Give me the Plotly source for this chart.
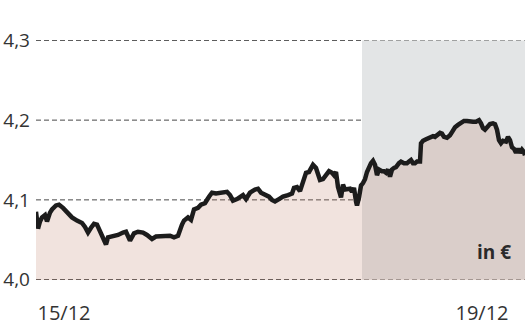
import plotly.graph_objects as go

# time index (intraday samples, 15/12 .. 19/12)
times = [0, 2, 4, 6, 9, 11, 14, 16, 20, 23, 27, 31, 36, 41, 46, 49, 52, 55, 58, 61,
         64, 67, 70, 72, 77, 82, 87, 90, 94, 98, 102, 107, 111, 116, 120, 125, 130, 134, 138, 142,
         146, 148, 152, 155, 158, 162, 165, 169, 173, 176, 180, 184, 188, 191, 194, 197, 201, 204, 207, 210,
         214, 219, 222, 225, 229, 233, 236, 239, 243, 247, 252, 256, 258, 261, 264, 267, 270, 273, 277, 280,
         282, 284, 287, 290, 293, 296, 298, 300, 302, 305, 307, 309, 311, 314, 316, 318, 320, 321, 323, 325,
         327, 329, 331, 333, 335, 337, 339, 341, 343, 346, 348, 350, 352, 354, 356, 358, 360, 363, 365, 368,
         371, 373, 375, 377, 379, 381, 384, 385, 387, 390, 393, 394, 397, 399, 401, 404, 406, 408, 411, 414,
         416, 419, 422, 425, 428, 431, 434, 437, 440, 443, 445, 447, 449, 451, 454, 457, 459, 461, 463, 465,
         467, 470, 472, 474, 476, 478, 480, 482, 484, 486, 488, 489]

prices = [4.085, 4.064, 4.073, 4.078, 4.081, 4.073, 4.084, 4.088, 4.093, 4.094, 4.090, 4.084, 4.078, 4.074, 4.071, 4.066, 4.059, 4.065, 4.070, 4.069,
          4.060, 4.050, 4.044, 4.053, 4.054, 4.056, 4.059, 4.060, 4.049, 4.058, 4.060, 4.059, 4.056, 4.051, 4.054, 4.054, 4.054, 4.055, 4.053, 4.055,
          4.069, 4.074, 4.078, 4.075, 4.088, 4.090, 4.094, 4.096, 4.104, 4.109, 4.108, 4.109, 4.109, 4.110, 4.106, 4.099, 4.101, 4.104, 4.106, 4.101,
          4.109, 4.113, 4.114, 4.109, 4.106, 4.104, 4.100, 4.098, 4.101, 4.104, 4.106, 4.108, 4.115, 4.116, 4.111, 4.121, 4.134, 4.135, 4.144, 4.140,
          4.134, 4.125, 4.126, 4.131, 4.136, 4.134, 4.131, 4.135, 4.116, 4.103, 4.119, 4.113, 4.114, 4.114, 4.110, 4.115, 4.098, 4.093, 4.103, 4.118,
          4.121, 4.126, 4.135, 4.141, 4.146, 4.149, 4.144, 4.131, 4.138, 4.136, 4.136, 4.134, 4.138, 4.129, 4.138, 4.140, 4.141, 4.146, 4.148, 4.146,
          4.146, 4.148, 4.150, 4.146, 4.146, 4.148, 4.148, 4.171, 4.174, 4.176, 4.178, 4.178, 4.180, 4.179, 4.181, 4.184, 4.183, 4.179, 4.178, 4.181,
          4.185, 4.191, 4.194, 4.196, 4.199, 4.199, 4.198, 4.198, 4.198, 4.200, 4.196, 4.190, 4.188, 4.191, 4.195, 4.196, 4.195, 4.188, 4.175, 4.171,
          4.174, 4.173, 4.179, 4.175, 4.166, 4.164, 4.159, 4.164, 4.159, 4.163, 4.160, 4.156]

y_ticks = [4.0, 4.1, 4.2, 4.3]
x_tick_vals = [28, 446]
x_tick_text = ["15/12", "19/12"]
shade_start = 326
x_end = 489
unit_label = "in €"

fig = go.Figure()

fig.add_shape(type="rect", xref="x", yref="y", x0=shade_start, x1=x_end, y0=y_ticks[0], y1=y_ticks[-1],
              fillcolor="#e3e5e6", line_width=0, layer="below")
for v in y_ticks:
    fig.add_shape(type="line", xref="paper", yref="y", x0=0, x1=1, y0=v, y1=v,
                  line=dict(color="#4a4a4a", width=1, dash="5px,3px"), layer="below")

fig.add_trace(go.Scatter(x=times, y=prices, mode="lines", fill="tozeroy",
                         fillcolor="rgba(186,115,88,0.2)",
                         line=dict(color="#1c1c1c", width=4.5), hoverinfo="skip"))

fig.add_annotation(x=1, xref="paper", xanchor="right", xshift=-12,
                   y=4.034, yref="y", yanchor="middle",
                   text="<b>" + unit_label + "</b>", showarrow=False,
                   font=dict(family="Open Sans", size=19, color="#2a2a2a"))

fig.update_layout(
    width=527, height=333,
    margin=dict(l=36, r=2, t=40, b=53),
    paper_bgcolor="white", plot_bgcolor="rgba(0,0,0,0)",
    separators=",.",
    showlegend=False,
    font=dict(family="Open Sans", color="#333333"),
)
fig.update_xaxes(range=[0, x_end], showgrid=False, zeroline=False, showline=False,
                 tickvals=x_tick_vals, ticktext=x_tick_text, ticks="",
                 tickfont=dict(size=20, color="#333333"), ticklabelstandoff=19)
fig.update_yaxes(range=[3.9995, 4.3005], tickvals=y_ticks, tickformat=".1f",
                 showgrid=False, zeroline=False, showline=False, ticks="",
                 tickfont=dict(size=19, color="#333333"), ticklabelstandoff=5)

fig.write_html("out.html")
